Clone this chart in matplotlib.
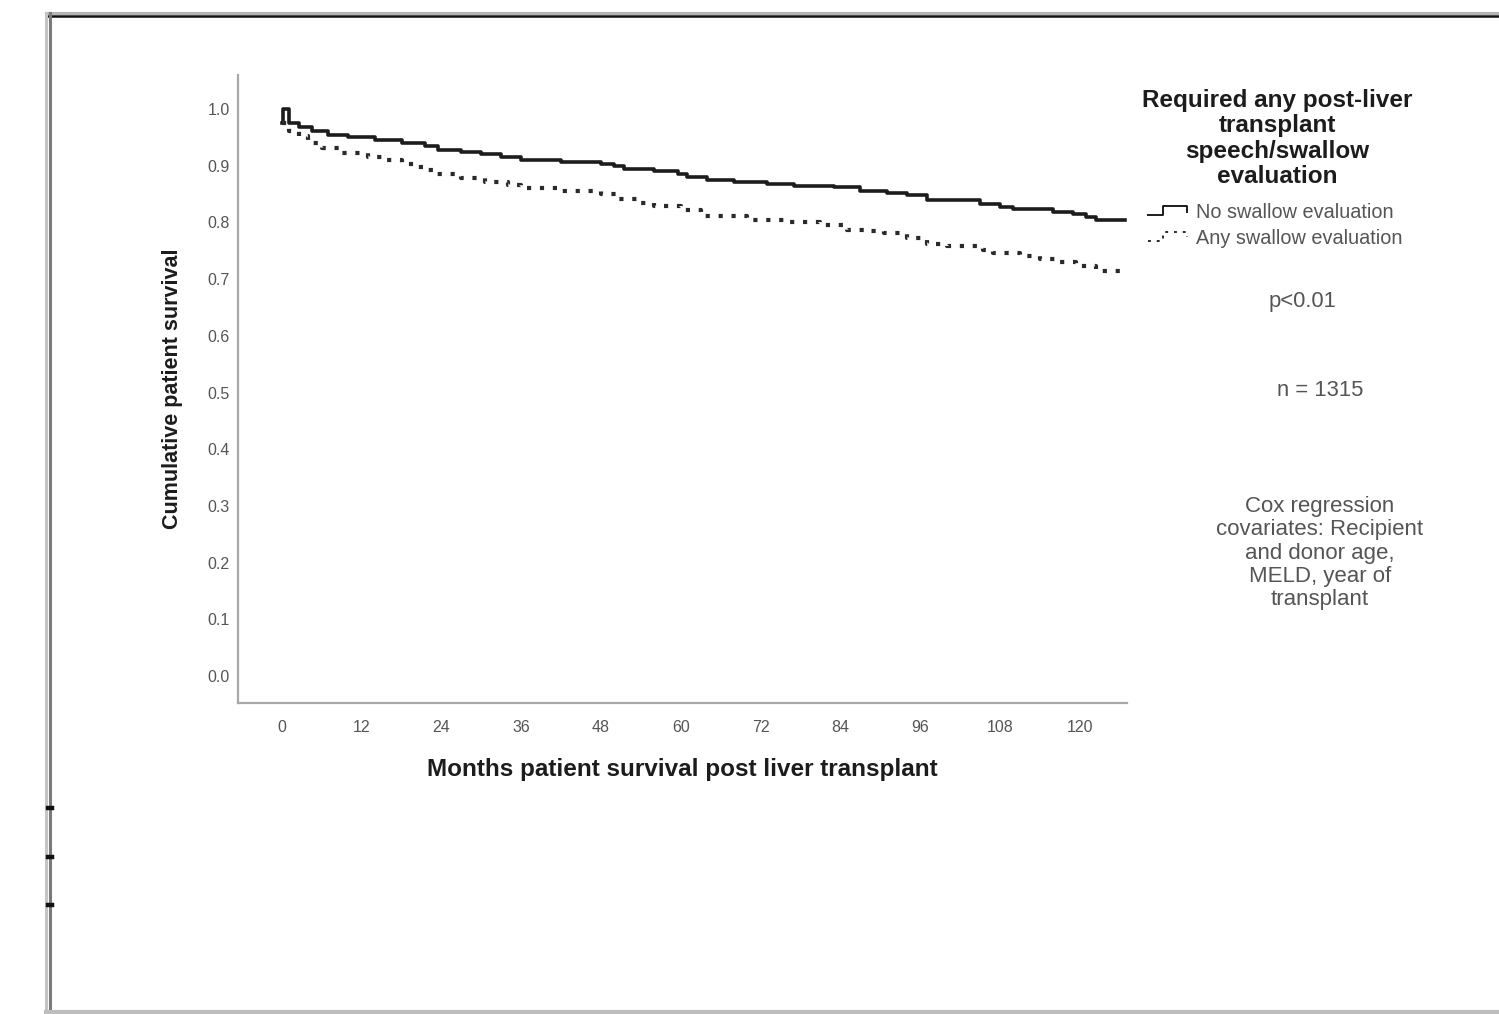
"""Kaplan-Meier style survival curves: swallow evaluation after liver transplant."""

import matplotlib

matplotlib.use("Agg")
import matplotlib.pyplot as plt
import numpy as np
from matplotlib.legend_handler import HandlerBase
from matplotlib.lines import Line2D

plt.rcParams["font.family"] = ["Liberation Sans", "DejaVu Sans"]

FIG_W, FIG_H = 1499, 1014

# Step data (months, cumulative survival)
NO_EVAL_MONTHS = [0, 0.15, 1.0, 2.5, 4.5, 7, 10, 14, 18, 21.5, 23.5, 27, 30, 33, 36, 42,
                  48, 50, 51.5, 56, 59.5, 61, 64, 68, 73, 77, 83, 87, 91, 94, 97, 105,
                  108, 110, 116, 119, 121, 122.5, 126.8]
NO_EVAL_SURV = [0.975, 1.0, 0.976, 0.968, 0.962, 0.955, 0.950, 0.946, 0.940, 0.934, 0.928,
                0.924, 0.920, 0.916, 0.910, 0.906, 0.903, 0.899, 0.894, 0.890, 0.885,
                0.880, 0.875, 0.871, 0.867, 0.865, 0.862, 0.856, 0.852, 0.848, 0.840,
                0.833, 0.828, 0.823, 0.819, 0.815, 0.810, 0.805, 0.805]

ANY_EVAL_MONTHS = [0, 1.0, 2.5, 4, 6, 9, 13, 15, 18, 20, 22, 23.3, 27, 30.5, 34, 36, 42,
                   48, 50.5, 54, 56, 60, 63, 70, 76, 81, 85, 88, 90.5, 94, 97, 100,
                   105.5, 107, 111, 114, 117, 119.5, 122.5, 126.8]
ANY_EVAL_SURV = [0.975, 0.962, 0.952, 0.940, 0.932, 0.922, 0.916, 0.910, 0.903, 0.897,
                 0.892, 0.885, 0.879, 0.872, 0.866, 0.860, 0.856, 0.850, 0.842, 0.835,
                 0.829, 0.822, 0.811, 0.804, 0.800, 0.795, 0.787, 0.784, 0.781, 0.773,
                 0.762, 0.758, 0.752, 0.746, 0.740, 0.735, 0.730, 0.724, 0.714, 0.714]

SERIES_LABELS = ["No swallow evaluation", "Any swallow evaluation"]
X_TICKS = [0, 12, 24, 36, 48, 60, 72, 84, 96, 108, 120]
Y_TICKS = [0.0, 0.1, 0.2, 0.3, 0.4, 0.5, 0.6, 0.7, 0.8, 0.9, 1.0]

LEGEND_TITLE = "Required any post-liver\ntransplant\nspeech/swallow\nevaluation"
P_TEXT = "p<0.01"
N_TEXT = "n = 1315"
COX_TEXT = "Cox regression\ncovariates: Recipient\nand donor age,\nMELD, year of\ntransplant"

TEXT_GRAY = "#555555"
DARK = "#1c1c1c"


def fx(px: float) -> float:
    return px / FIG_W


def fy(py: float) -> float:
    return 1 - py / FIG_H


class StepHandler(HandlerBase):
    """Small step-shaped legend key, like the SPSS survival legend."""

    def create_artists(self, legend, orig_handle, xdescent, ydescent, width, height,
                       fontsize, trans):
        xs = np.array([0.0, 0.38, 0.38, 1.0, 1.0]) * width - xdescent
        ys = np.array([0.1, 0.1, 0.9, 0.9, 0.45]) * height - ydescent
        key = Line2D(xs, ys, color=orig_handle.get_color(), lw=1.4,
                     linestyle="-" if orig_handle.get_linestyle() == "-" else (0, (1.5, 3)))
        key.set_transform(trans)
        return [key]


def draw_frame(fig) -> None:
    # screenshot border around the chart
    fig.add_artist(Line2D([fx(46), fx(1499)], [fy(13), fy(13)], color="#b5b5b5", lw=2.2))
    fig.add_artist(Line2D([fx(46), fx(1499)], [fy(16), fy(16)], color="#111111", lw=1.8))
    fig.add_artist(Line2D([fx(46), fx(46)], [fy(13), fy(1014)], color="#c4c4c4", lw=2.2))
    fig.add_artist(Line2D([fx(49.5), fx(49.5)], [fy(13), fy(1014)], color="#7a7a7a", lw=2.2))
    fig.add_artist(Line2D([fx(46), fx(1499)], [fy(1012), fy(1012)], color="#bdbdbd", lw=3))
    for py in (808, 857, 905):
        fig.add_artist(Line2D([fx(47.5), fx(51.5)], [fy(py), fy(py)], color="#111111", lw=3.2))


def main() -> None:
    fig = plt.figure(figsize=(FIG_W / 100, FIG_H / 100), dpi=100)
    ax = fig.add_axes([fx(238), fy(703), fx(1127) - fx(238), fy(75) - fy(703)])

    solid, = ax.step(NO_EVAL_MONTHS, NO_EVAL_SURV, where="post", color=DARK, lw=2.6,
                     label=SERIES_LABELS[0])
    dotted, = ax.step(ANY_EVAL_MONTHS, ANY_EVAL_SURV, where="post", color="#2a2a2a", lw=3.0,
                      linestyle=(0, (1, 2.1)), label=SERIES_LABELS[1])

    ax.set_xlim(-6.6, 127.1)
    ax.set_ylim(-0.0476, 1.06)
    ax.set_xticks(X_TICKS)
    ax.set_yticks(Y_TICKS)
    ax.set_yticklabels([f"{v:.1f}" for v in Y_TICKS])
    ax.tick_params(axis="both", length=0, labelsize=11.5, labelcolor=TEXT_GRAY)
    ax.tick_params(axis="x", pad=12)
    ax.tick_params(axis="y", pad=6)
    for side in ("top", "right"):
        ax.spines[side].set_visible(False)
    for side in ("left", "bottom"):
        ax.spines[side].set_color("#a8a8a8")
        ax.spines[side].set_linewidth(1.6)

    ax.set_xlabel("Months patient survival post liver transplant", fontsize=17.5,
                  fontweight="bold", color=DARK)
    ax.xaxis.set_label_coords(0.5, -0.088)
    ax.set_ylabel("Cumulative patient survival", fontsize=15.5, fontweight="bold", color=DARK)
    ax.yaxis.set_label_coords(-0.062, 0.5)

    fig.text(fx(1277), fy(89), LEGEND_TITLE, ha="center", va="top", fontsize=17.5,
             fontweight="bold", color=DARK, linespacing=1.13)

    leg = fig.legend(handles=[solid, dotted], labels=SERIES_LABELS,
                     handler_map={solid: StepHandler(), dotted: StepHandler()},
                     loc="upper left", bbox_to_anchor=(fx(1148), fy(203)),
                     frameon=False, fontsize=14.3, handlelength=1.95, handleheight=0.5,
                     handletextpad=0.45, labelspacing=0.35, borderpad=0, borderaxespad=0)
    for txt in leg.get_texts():
        txt.set_color(TEXT_GRAY)

    fig.text(fx(1303), fy(302), P_TEXT, ha="center", va="center", fontsize=15.8, color=TEXT_GRAY)
    fig.text(fx(1320), fy(390), N_TEXT, ha="center", va="center", fontsize=15.8, color=TEXT_GRAY)
    fig.text(fx(1320), fy(553), COX_TEXT, ha="center", va="center", fontsize=16,
             color=TEXT_GRAY, linespacing=1.13)

    draw_frame(fig)
    fig.savefig("out.png", dpi=100, facecolor="white")
    plt.close(fig)


if __name__ == "__main__":
    main()
